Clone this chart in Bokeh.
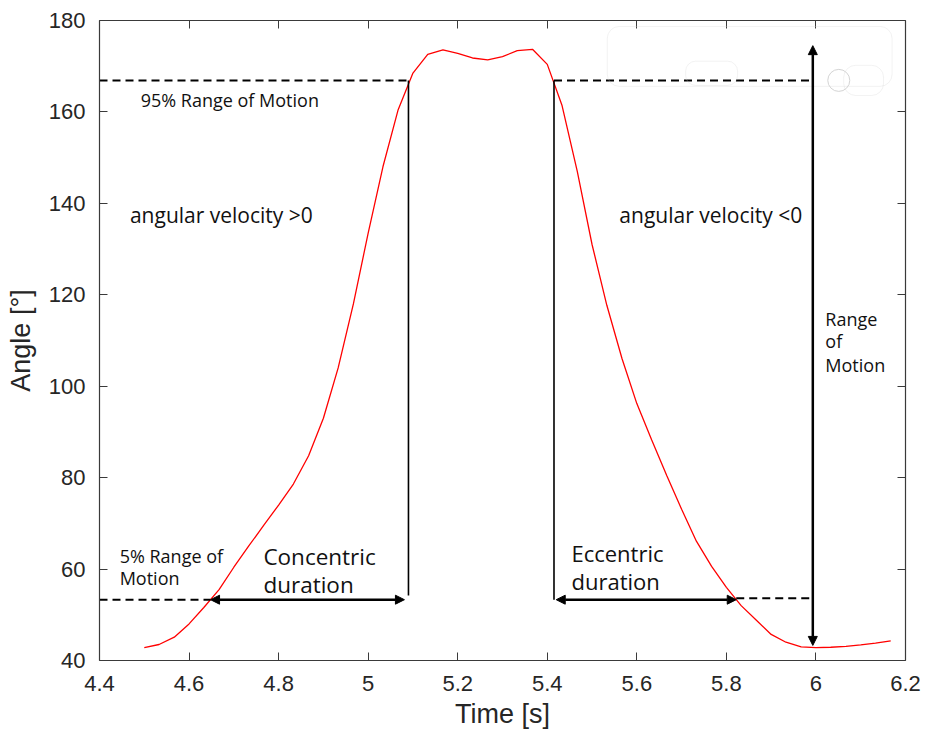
from bokeh.plotting import figure
from bokeh.models import (LinearAxis, FixedTicker, Range1d, Arrow, NormalHead,
                          BoxAnnotation, ColumnDataSource)
from bokeh.embed import file_html
from bokeh.resources import INLINE
from bokeh.core.properties import value

# ---------------- data ----------------
time_s = [4.500, 4.533, 4.567, 4.600, 4.633, 4.667, 4.700, 4.733, 4.767, 4.800,
          4.833, 4.867, 4.900, 4.933, 4.967, 5.000, 5.033, 5.067, 5.100, 5.133,
          5.167, 5.200, 5.233, 5.267, 5.300, 5.333, 5.367, 5.400, 5.433, 5.467,
          5.500, 5.533, 5.567, 5.600, 5.633, 5.667, 5.700, 5.733, 5.767, 5.800,
          5.833, 5.867, 5.900, 5.933, 5.967, 6.000, 6.033, 6.067, 6.100, 6.133,
          6.167]
angle_deg = [42.8, 43.5, 45.1, 48.0, 51.6, 55.5, 60.4, 65.0, 69.6, 74.0,
             78.6, 84.8, 93.0, 104.0, 118.0, 133.5, 148.0, 160.5, 168.5, 172.6,
             173.6, 172.8, 171.8, 171.4, 172.1, 173.4, 173.7, 170.4, 161.4, 147.0,
             131.0, 117.7, 106.0, 96.2, 88.3, 80.4, 73.1, 66.1, 60.6, 56.0,
             52.0, 48.8, 45.7, 44.0, 43.0, 42.8, 42.9, 43.1, 43.4, 43.8,
             44.3]

x_ticks = [4.4, 4.6, 4.8, 5.0, 5.2, 5.4, 5.6, 5.8, 6.0, 6.2]
x_tick_labels = ["4.4", "4.6", "4.8", "5", "5.2", "5.4", "5.6", "5.8", "6", "6.2"]
y_ticks = [40, 60, 80, 100, 120, 140, 160, 180]
y_tick_labels = ["40", "60", "80", "100", "120", "140", "160", "180"]

# phase markers
rom95_level = 166.9
rom5_level = 53.3
concentric_start = 4.648
concentric_end = 5.081
concentric_line_x = 5.090
concentric_line_bottom = 54.2
eccentric_line_x = 5.415
eccentric_start = 5.420
eccentric_end = 5.822
rom_arrow_x = 5.993
rom_arrow_low = 43.3
rom_arrow_high = 174.5

# ---------------- figure ----------------
p = figure(width=925, height=733, x_range=Range1d(4.4, 6.2), y_range=Range1d(40, 180),
           output_backend="svg", toolbar_location=None,
           min_border_left=99, min_border_right=20, min_border_top=20, min_border_bottom=73)
p.grid.visible = False
p.outline_line_color = None
p.background_fill_color = "white"
p.border_fill_color = "white"

AX_COL = "#3a3a3a"
TICK_FONT = "Liberation Sans"

def style_axis(ax, show_labels):
    ax.axis_line_color = AX_COL
    ax.axis_line_width = 1.2
    ax.major_tick_line_color = AX_COL
    ax.major_tick_line_width = 1
    ax.major_tick_in = 8
    ax.major_tick_out = 0
    ax.minor_tick_line_color = None
    ax.major_label_text_font = TICK_FONT
    if show_labels:
        ax.major_label_text_font_size = "22px"
        ax.major_label_text_color = "#262626"
    else:
        ax.major_label_text_font_size = "1px"
        ax.major_label_text_color = None
        ax.major_label_standoff = 0

# bottom axis
xa = p.xaxis[0]
xa.ticker = FixedTicker(ticks=x_ticks)
xa.major_label_overrides = dict(zip(x_ticks, x_tick_labels))
style_axis(xa, True)
xa.major_label_standoff = 15
xa.axis_label = "Time [s]"
xa.axis_label_text_font = TICK_FONT
xa.axis_label_text_font_size = "27px"
xa.axis_label_text_font_style = "normal"
xa.axis_label_text_color = "#262626"
xa.axis_label_standoff = 5

# left axis
ya = p.yaxis[0]
ya.ticker = FixedTicker(ticks=y_ticks)
ya.major_label_overrides = dict(zip(y_ticks, y_tick_labels))
style_axis(ya, True)
ya.major_label_standoff = 14
ya.axis_label = "Angle [°]"
ya.axis_label_text_font = TICK_FONT
ya.axis_label_text_font_size = "27px"
ya.axis_label_text_font_style = "normal"
ya.axis_label_text_color = "#262626"
ya.axis_label_standoff = 10

# top / right axes (box with inward ticks)
top_ax = LinearAxis(ticker=FixedTicker(ticks=x_ticks))
style_axis(top_ax, False)
p.add_layout(top_ax, "above")
right_ax = LinearAxis(ticker=FixedTicker(ticks=y_ticks))
style_axis(right_ax, False)
p.add_layout(right_ax, "right")

# faint ghost outlines (top right)
ghost = "#d4d4d4"
p.add_layout(BoxAnnotation(left=5.534, right=6.170, bottom=165.6, top=178.7,
                           fill_color=None, line_color=ghost, line_width=1, border_radius=12))
p.add_layout(BoxAnnotation(left=5.709, right=5.825, bottom=165.8, top=171.1,
                           fill_color=None, line_color=ghost, line_width=1, border_radius=10))
p.add_layout(BoxAnnotation(left=6.062, right=6.151, bottom=163.6, top=170.2,
                           fill_color=None, line_color=ghost, line_width=1, border_radius=12))
p.scatter(x=[6.051], y=[166.9], size=22, fill_color=None, line_color=ghost, line_width=1)

# angle curve
src = ColumnDataSource(dict(t=time_s, a=angle_deg))
p.line("t", "a", source=src, line_color="#ff0000", line_width=1.3)

# dashed reference levels
dash_kw = dict(line_color="black", line_width=2, line_dash="8 5")
p.segment(x0=[4.4, eccentric_line_x, 4.4, eccentric_end],
          y0=[rom95_level, rom95_level, rom5_level, rom5_level + 0.3],
          x1=[concentric_line_x, rom_arrow_x, concentric_start, rom_arrow_x],
          y1=[rom95_level, rom95_level, rom5_level, rom5_level + 0.3], **dash_kw)

# vertical phase lines
p.segment(x0=[concentric_line_x, eccentric_line_x], y0=[rom95_level, rom95_level],
          x1=[concentric_line_x, eccentric_line_x], y1=[concentric_line_bottom, rom5_level],
          line_color="black", line_width=1.6)

# arrows
def head():
    return NormalHead(size=9, fill_color="black", line_color="black", line_width=1)

p.add_layout(Arrow(start=head(), end=head(), x_start=concentric_start, y_start=rom5_level,
                   x_end=concentric_end, y_end=rom5_level, line_width=2.5, line_color="black"))
p.add_layout(Arrow(start=head(), end=head(), x_start=eccentric_start, y_start=rom5_level,
                   x_end=eccentric_end, y_end=rom5_level, line_width=2.5, line_color="black"))
p.add_layout(Arrow(start=head(), end=head(), x_start=rom_arrow_x, y_start=rom_arrow_low,
                   x_end=rom_arrow_x, y_end=rom_arrow_high, line_width=2.5, line_color="black"))

# annotation texts
ann_font = value("Open Sans")

def add_text(xs, ys, texts, size):
    p.text(x=xs, y=ys, text=texts, text_font=ann_font, text_font_size=size,
           text_color="#111111", text_align="left", text_baseline="alphabetic")

add_text([4.492], [162.7], ["95% Range of Motion"], "18px")
add_text([4.468, 5.561], [137.4, 137.4], ["angular velocity >0", "angular velocity <0"], "21px")
add_text([6.021, 6.021, 6.021], [114.6, 109.8, 104.7], ["Range", "of", "Motion"], "18px")
add_text([4.445, 4.445], [62.9, 58.1], ["5% Range of", "Motion"], "18px")
add_text([4.766, 4.766], [62.8, 56.6], ["Concentric", "duration"], "22.5px")
add_text([5.454, 5.454], [63.6, 57.5], ["Eccentric", "duration"], "22px")

open("out.html", "w").write(file_html(p, INLINE))
